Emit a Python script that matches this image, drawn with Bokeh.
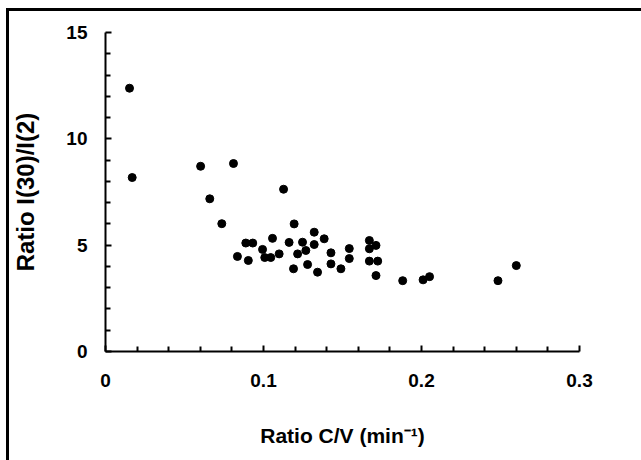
from bokeh.plotting import figure
from bokeh.models import FixedTicker, ColumnDataSource
from bokeh.embed import file_html
from bokeh.resources import INLINE

# Data
ratio_cv = [0.0152, 0.0169, 0.0602, 0.0810, 0.0660, 0.1127, 0.0736, 0.0888,
            0.0932, 0.0835, 0.0904, 0.1057, 0.0994, 0.1008, 0.1046, 0.1099,
            0.1162, 0.1194, 0.1190, 0.1216, 0.1321, 0.1384, 0.1247, 0.1321,
            0.1268, 0.1279, 0.1342, 0.1427, 0.1427, 0.1490, 0.1543, 0.1543,
            0.1670, 0.1712, 0.1670, 0.1670, 0.1723, 0.1712, 0.1881, 0.2010,
            0.2051, 0.2484, 0.2600]
ratio_i = [12.38, 8.18, 8.71, 8.84, 7.18, 7.63, 6.01, 5.10,
           5.10, 4.47, 4.28, 5.32, 4.80, 4.42, 4.42, 4.59,
           5.13, 6.00, 3.89, 4.59, 5.61, 5.30, 5.14, 5.03,
           4.75, 4.09, 3.73, 4.64, 4.12, 3.89, 4.84, 4.37,
           5.22, 4.99, 4.83, 4.25, 4.25, 3.57, 3.33, 3.37,
           3.52, 3.33, 4.04]

x_major = [0, 0.1, 0.2, 0.3]
x_minor = [0.02, 0.04, 0.06, 0.08, 0.12, 0.14, 0.16, 0.18,
           0.22, 0.24, 0.26, 0.28]
y_major = [0, 5, 10, 15]
y_minor = [1, 2, 3, 4, 6, 7, 8, 9, 11, 12, 13, 14]

x_label = "Ratio C/V (min\u207b\u00b9)"
y_label = "Ratio I(30)/I(2)"

W, H = 641, 460
p = figure(width=W, height=H, x_range=(0, 0.3), y_range=(0, 15),
           output_backend="svg", toolbar_location=None,
           min_border_left=105, min_border_right=62,
           min_border_top=32, min_border_bottom=109)

# transparent canvas over a white page that carries the cropped outer frame
# (thick rule along the top and left edges, as in the reference)
p.outline_line_color = None
p.background_fill_color = None
p.border_fill_color = None
p.styles = {
    "overflow": "hidden",
    "background-color": "white",
    "background-image": "linear-gradient(black, black), linear-gradient(black, black)",
    "background-size": "635px 3px, 3px 452px",
    "background-position": "6px 8px, 6px 8px",
    "background-repeat": "no-repeat",
}
p.xgrid.visible = False
p.ygrid.visible = False

src = ColumnDataSource(dict(x=ratio_cv, y=ratio_i))
p.scatter("x", "y", source=src, size=8, marker="circle",
          fill_color="black", line_color="black")

p.xaxis.ticker = FixedTicker(ticks=x_major, minor_ticks=x_minor)
p.yaxis.ticker = FixedTicker(ticks=y_major, minor_ticks=y_minor)

for ax in (p.xaxis[0], p.yaxis[0]):
    ax.axis_line_width = 2
    ax.axis_line_color = "black"
    ax.major_tick_in = 6
    ax.major_tick_out = 0
    ax.minor_tick_in = 5
    ax.minor_tick_out = 0
    ax.major_tick_line_width = 2
    ax.minor_tick_line_width = 2
    ax.major_tick_line_color = "black"
    ax.minor_tick_line_color = "black"
    ax.major_label_text_font = "Liberation Sans"
    ax.major_label_text_font_style = "bold"
    ax.major_label_text_font_size = "19px"
    ax.major_label_text_color = "black"
    ax.axis_label_text_font = "Liberation Sans"
    ax.axis_label_text_font_style = "bold"
    ax.axis_label_text_color = "black"

p.xaxis.axis_label = x_label
p.yaxis.axis_label = y_label
p.xaxis.axis_label_text_font_size = "21px"
p.yaxis.axis_label_text_font_size = "24px"
p.xaxis.major_label_standoff = 22
p.yaxis.major_label_standoff = 18
p.xaxis.axis_label_standoff = 34
p.yaxis.axis_label_standoff = 24
p.xaxis.formatter.use_scientific = False

open("out.html", "w").write(file_html(p, INLINE))
